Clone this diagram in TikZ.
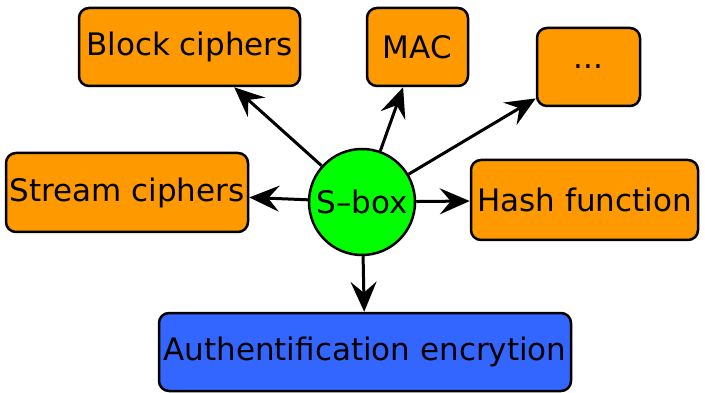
\documentclass[tikz,border=0pt]{standalone}
\usepackage{fontspec}
\setmainfont{DejaVu Sans}
\usetikzlibrary{arrows.meta}
\definecolor{boxorange}{RGB}{255,153,0}
\definecolor{boxgreen}{RGB}{0,255,0}
\definecolor{boxblue}{RGB}{51,102,255}
\tikzset{
  usebox/.style={draw=black, line width=2.5pt, rounded corners=10pt, fill=boxorange,
    inner sep=0pt, font=\fontsize{31}{37}\selectfont},
  hubnode/.style={draw=black, line width=2.5pt, circle, fill=boxgreen, minimum size=106pt,
    inner sep=0pt, font=\fontsize{31}{37}\selectfont},
  arr/.style={draw=black, line width=3pt, -{Stealth[length=30pt,width=26pt,inset=11pt]}}
}
\begin{document}
\begin{tikzpicture}[x=1pt,y=-1pt]
  \useasboundingbox (0,0) rectangle (705,393);
  % usage boxes
  \node[usebox, minimum width=221pt, minimum height=78pt] (block) at (189.5,47) {Block ciphers};
  \node[usebox, minimum width=101pt, minimum height=78pt] (mac) at (417.5,47) {MAC};
  \node[usebox, minimum width=103pt, minimum height=78pt] (more) at (588.5,67) {...};
  \node[usebox, minimum width=242pt, minimum height=79pt] (stream) at (127,192.5) {Stream ciphers};
  \node[usebox, minimum width=227pt, minimum height=80pt] (hash) at (584.5,200) {Hash function};
  \node[usebox, fill=boxblue, minimum width=412pt, minimum height=78pt] (auth) at (365,352) {Authentification encrytion};
  % central S-box
  \node[hubnode] (sbox) at (362,202) {S–box};
  % connectors
  \draw[arr] (sbox) -- (block);
  \draw[arr] (sbox) -- (mac);
  \draw[arr] (sbox) -- (more);
  \draw[arr] (sbox) -- (stream);
  \draw[arr] (sbox) -- (hash);
  \draw[arr] (sbox) -- (auth);
\end{tikzpicture}
\end{document}
